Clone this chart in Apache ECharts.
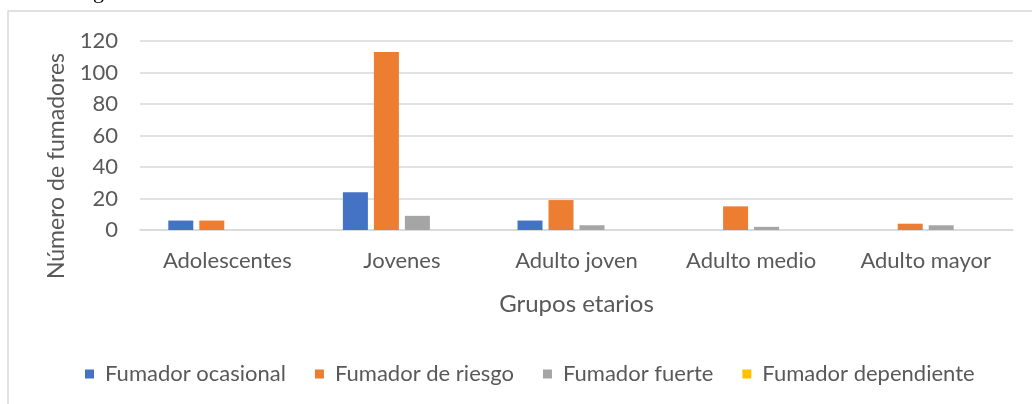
<!DOCTYPE html>
<html>
<head>
<meta charset="utf-8">
<script src="https://cdn.jsdelivr.net/npm/echarts@6/dist/echarts.min.js"></script>
<style>
  html, body { margin: 0; padding: 0; background: #fff; }
  #chart { width: 1032px; height: 404px; }
</style>
</head>
<body>
<div id="chart"></div>
<script>
// grupos etarios
const categories = ['Adolescentes', 'Jovenes', 'Adulto joven', 'Adulto medio', 'Adulto mayor'];
const seriesNames = ['Fumador ocasional', 'Fumador de riesgo', 'Fumador fuerte', 'Fumador dependiente'];
const ocasional = [6, 24, 6, 0, 0];
const riesgo = [6, 113, 19, 15, 4];
const fuerte = [0, 9, 3, 2, 3];
const dependiente = [0, 0, 0, 0, 0];
const yTicks = [0, 20, 40, 60, 80, 100, 120];

const colors = ['#4472C4', '#ED7D31', '#A5A5A5', '#FFC000'];
const font = 'Lato';
const txt = '#595959';

const myChart = echarts.init(document.getElementById('chart'), null, { renderer: 'canvas' });

const allData = [ocasional, riesgo, fuerte, dependiente];
const series = seriesNames.map((name, i) => ({
  name: name,
  type: 'bar',
  data: allData[i],
  barWidth: 25,
  barGap: '24%',
  itemStyle: { color: colors[i] }
}));

const option = {
  backgroundColor: '#fff',
  animation: false,
  textStyle: { fontFamily: font },
  grid: { left: 140, right: 19, top: 41, bottom: 174 },
  legend: {
    left: 80,
    top: 358,
    itemWidth: 9,
    itemHeight: 9,
    itemGap: 29,
    icon: 'rect',
    textStyle: { color: txt, fontSize: 22, fontFamily: font, padding: [0, 0, 0, 6] },
    data: seriesNames
  },
  xAxis: {
    type: 'category',
    data: categories,
    name: 'Grupos etarios',
    nameLocation: 'middle',
    nameGap: 62,
    nameTextStyle: { color: txt, fontSize: 24, fontFamily: font },
    axisLine: { lineStyle: { color: '#d9d9d9', width: 1.5 } },
    axisTick: { show: false },
    axisLabel: { color: txt, fontSize: 22, fontFamily: font, margin: 20 }
  },
  yAxis: {
    type: 'value',
    min: yTicks[0],
    max: yTicks[yTicks.length - 1],
    interval: yTicks[1] - yTicks[0],
    axisLine: { show: false },
    axisTick: { show: false },
    axisLabel: { color: txt, fontSize: 22, fontFamily: font, margin: 22 },
    splitLine: { lineStyle: { color: '#d9d9d9', width: 1.5 } }
  },
  graphic: [
    {
      type: 'rect',
      shape: { x: 8, y: 11, width: 1100, height: 500 },
      style: { fill: 'none', stroke: '#d9d9d9', lineWidth: 1.5 },
      silent: true
    },
    {
      type: 'text',
      x: 57,
      y: 166,
      rotation: Math.PI / 2,
      style: {
        text: 'Número de fumadores',
        fill: txt,
        font: '23px ' + font,
        align: 'center',
        verticalAlign: 'middle'
      }
    },
    {
      type: 'text',
      x: 93,
      y: -19,
      style: { text: 'g', fill: '#000', font: '22px "Liberation Serif"' }
    }
  ],
  series: series
};

myChart.setOption(option);
</script>
</body>
</html>
